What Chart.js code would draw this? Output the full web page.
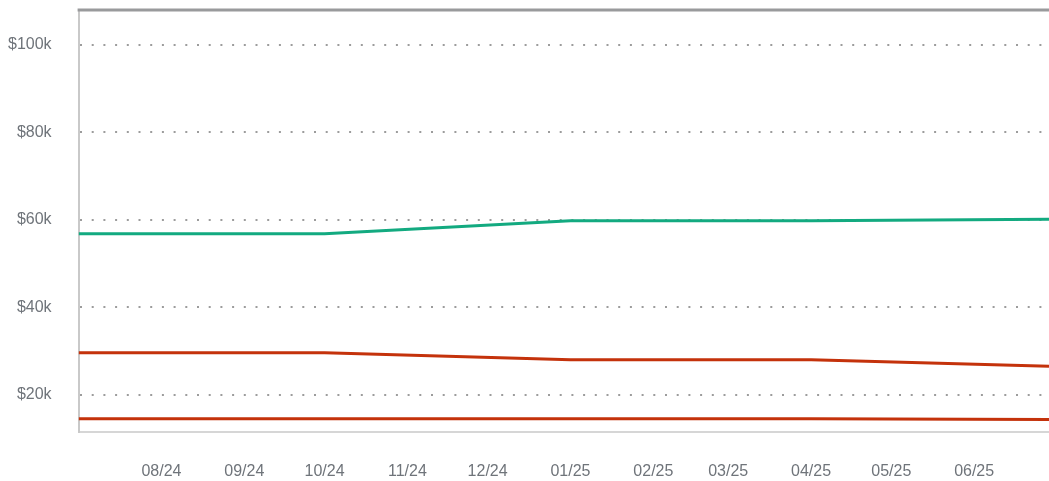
<!DOCTYPE html>
<html>
<head>
<meta charset="utf-8">
<script src="https://cdn.jsdelivr.net/npm/chart.js@4/dist/chart.umd.min.js"></script>
<style>
html,body{margin:0;padding:0;background:#fff;overflow:hidden;}
#c{position:fixed;left:0;top:0;width:1049px;height:481px;}
</style>
</head>
<body>
<canvas id="c" width="1049" height="481"></canvas>
<script>
// Tick labels (month starts) and the dates of the series' data points
const tickDates = ["2024-08-01","2024-09-01","2024-10-01","2024-11-01","2024-12-01","2025-01-01","2025-02-01","2025-03-01","2025-04-01","2025-05-01","2025-06-01"];
const tickLabels = ["08/24","09/24","10/24","11/24","12/24","01/25","02/25","03/25","04/25","05/25","06/25"];
const pointDates = ["2024-07-01","2024-10-01","2025-01-01","2025-04-01","2025-06-29"];
const seriesGreen = [56800, 56800, 59800, 59800, 60100];
const seriesRedUpper = [29600, 29600, 28000, 28000, 26500];
const seriesRedLower = [14500, 14500, 14500, 14500, 14300];
const yTickValues = [20000, 40000, 60000, 80000, 100000];
const yMin = 11500, yMax = 108000;
const startDate = "2024-07-01", endDate = "2025-06-29";

const dayOf = (s) => Math.round((Date.parse(s + "T00:00:00Z") - Date.parse(startDate + "T00:00:00Z")) / 86400000);
const toPoints = (vals) => vals.map((v, i) => ({x: dayOf(pointDates[i]), y: v}));
const tickDays = tickDates.map(dayOf);

const topLine = {
  id: 'topLine',
  afterDraw(chart) {
    const {ctx, chartArea} = chart;
    ctx.save();
    ctx.strokeStyle = '#999a9c';
    ctx.lineWidth = 3;
    ctx.beginPath();
    ctx.moveTo(chartArea.left - 1, chartArea.top);
    ctx.lineTo(chartArea.right, chartArea.top);
    ctx.stroke();
    ctx.restore();
  }
};

const lineStyle = (color) => ({
  borderColor: color, backgroundColor: color, borderWidth: 3,
  pointRadius: 0, pointHoverRadius: 0, tension: 0, fill: false
});

new Chart(document.getElementById('c'), {
  type: 'line',
  data: {
    datasets: [
      Object.assign({label: 'A', data: toPoints(seriesGreen)}, lineStyle('#13aa80')),
      Object.assign({label: 'B', data: toPoints(seriesRedUpper)}, lineStyle('#c4320b')),
      Object.assign({label: 'C', data: toPoints(seriesRedLower)}, lineStyle('#c4320b'))
    ]
  },
  plugins: [topLine],
  options: {
    responsive: false,
    devicePixelRatio: 1,
    animation: false,
    layout: {padding: {left: 8, right: 0, top: 10, bottom: 0}},
    plugins: {legend: {display: false}, tooltip: {enabled: false}},
    scales: {
      x: {
        type: 'linear',
        min: 0, max: dayOf(endDate),
        afterBuildTicks: (axis) => { axis.ticks = tickDays.map(v => ({value: v})); },
        grid: {display: true, drawOnChartArea: false, drawTicks: true, tickLength: 30, tickColor: 'rgba(0,0,0,0)'},
        border: {display: true, color: '#d6d6d6', width: 2},
        ticks: {
          color: '#6f747a', font: {family: 'Liberation Sans, Arial, sans-serif', size: 16},
          padding: 0, autoSkip: false, maxRotation: 0,
          callback: (v) => { const i = tickDays.indexOf(v); return i >= 0 ? tickLabels[i] : ''; }
        }
      },
      y: {
        min: yMin, max: yMax,
        afterBuildTicks: (axis) => { axis.ticks = yTickValues.map(v => ({value: v})); },
        grid: {color: '#9c9c9c', lineWidth: 2, drawTicks: true, tickLength: 27, tickColor: 'rgba(0,0,0,0)'},
        border: {display: true, color: '#c9c9c9', width: 2, dash: [2, 9.7]},
        ticks: {
          color: '#6f747a', font: {family: 'Liberation Sans, Arial, sans-serif', size: 16},
          padding: 0,
          callback: (v) => '$' + (v / 1000) + 'k'
        }
      }
    }
  }
});
</script>
</body>
</html>
